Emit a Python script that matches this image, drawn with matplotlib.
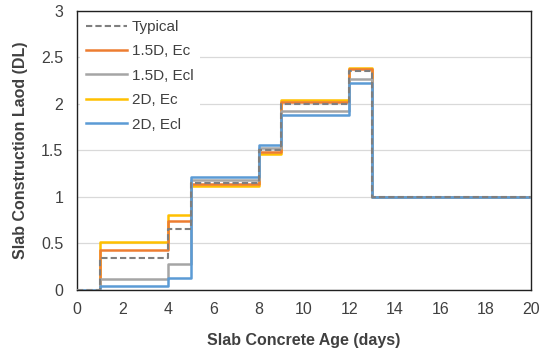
import matplotlib
matplotlib.use("Agg")
import matplotlib.pyplot as plt

plt.rcParams['font.family'] = ['Liberation Sans', 'DejaVu Sans']

days = [0, 1, 4, 5, 8, 9, 12, 13, 20]
typical = [0, 0.34, 0.66, 1.15, 1.50, 2.00, 2.35, 1.0, 1.0]
d15_ec = [0, 0.43, 0.74, 1.14, 1.48, 2.02, 2.38, 1.0, 1.0]
d15_ecl = [0, 0.12, 0.28, 1.18, 1.53, 1.92, 2.27, 1.0, 1.0]
d2_ec = [0, 0.51, 0.81, 1.12, 1.46, 2.04, 2.39, 1.0, 1.0]
d2_ecl = [0, 0.04, 0.13, 1.21, 1.56, 1.88, 2.23, 1.0, 1.0]

fig = plt.figure(figsize=(5.39, 3.51), dpi=100)
ax = fig.add_axes([0.143, 0.174, 0.842, 0.795])

ax.plot(days, d15_ec, drawstyle='steps-post', color='#ED7D31', lw=1.8, label='1.5D, Ec', zorder=3)
ax.plot(days, d15_ecl, drawstyle='steps-post', color='#A5A5A5', lw=1.8, label='1.5D, Ecl', zorder=3)
ax.plot(days, d2_ec, drawstyle='steps-post', color='#FFC000', lw=1.8, label='2D, Ec', zorder=2)
ax.plot(days, d2_ecl, drawstyle='steps-post', color='#5B9BD5', lw=1.8, label='2D, Ecl', zorder=4)
ax.plot(days, typical, drawstyle='steps-post', color='#7F7F7F', lw=1.5, ls=(0, (3, 1.5)), label='Typical', zorder=5)

ax.set_xlim(0, 20)
ax.set_ylim(0, 3)
ax.set_xticks(range(0, 21, 2))
ax.set_yticks([0, 0.5, 1, 1.5, 2, 2.5, 3])
ax.set_yticklabels(['0', '0.5', '1', '1.5', '2', '2.5', '3'])
ax.yaxis.grid(True, color='#D9D9D9', lw=0.9)
ax.set_axisbelow(True)
ax.tick_params(length=0, labelsize=11.5, colors='#404040')
ax.tick_params(axis='x', pad=9)
ax.tick_params(axis='y', pad=10)
for s in ax.spines.values():
    s.set_color('#202020')
    s.set_linewidth(1.0)

ax.set_xlabel('Slab Concrete Age (days)', fontsize=11.5, fontweight='bold', color='#404040', labelpad=11)
ax.set_ylabel('Slab Construction Laod (DL)', fontsize=11.5, fontweight='bold', color='#404040', labelpad=9)

handles, labels = ax.get_legend_handles_labels()
order = [4, 0, 1, 2, 3]
leg = ax.legend([handles[i] for i in order], [labels[i] for i in order],
                loc='upper left', frameon=True, fontsize=11, handlelength=2.7,
                handletextpad=0.3, labelspacing=0.68, borderaxespad=0.2,
                borderpad=0.4)
leg.get_frame().set_edgecolor('none')
leg.get_frame().set_facecolor('white')
leg.get_frame().set_alpha(1)
for t in leg.get_texts():
    t.set_color('#404040')

fig.savefig('out.png', dpi=100)
